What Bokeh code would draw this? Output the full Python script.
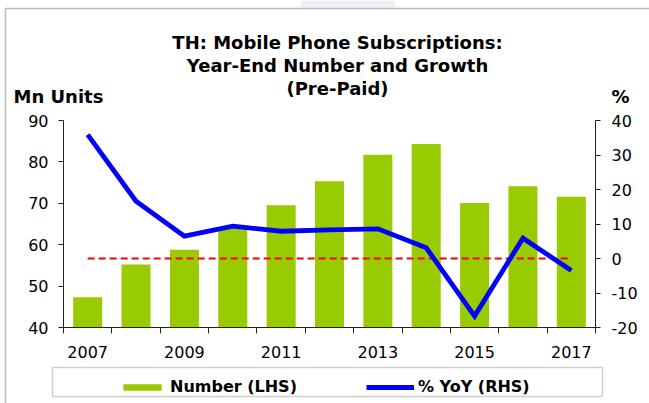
from bokeh.plotting import figure
from bokeh.models import (Range1d, LinearAxis, FixedTicker, Label, BoxAnnotation,
                          Legend, LegendItem, ColumnDataSource)
from bokeh.embed import file_html
from bokeh.resources import INLINE

# ---- data ----
years = [2007, 2008, 2009, 2010, 2011, 2012, 2013, 2014, 2015, 2016, 2017]
number_mn = [47.3, 55.2, 58.8, 64.3, 69.5, 75.3, 81.7, 84.3, 70.1, 74.1, 71.6]
yoy_pct = [35.9, 16.6, 6.5, 9.4, 7.9, 8.3, 8.6, 3.1, -16.7, 5.9, -3.5]
left_ticks = [40, 50, 60, 70, 80, 90]
right_ticks = [-20, -10, 0, 10, 20, 30, 40]
x_label_years = [2007, 2009, 2011, 2013, 2015, 2017]
title_lines = ["TH: Mobile Phone Subscriptions:", "Year-End Number and Growth", "(Pre-Paid)"]
left_unit = "Mn Units"
right_unit = "%"
series_names = ["Number (LHS)", "% YoY (RHS)"]

# ---- layout (pixels) ----
FONT = "DejaVu Sans"
W, H = 649, 403
FL, FR, FT, FB = 63, 595, 120, 327   # plot area edges on the canvas

x0, x1 = years[0] - 0.5, years[-1] + 0.5
ppx = (FR - FL) / (x1 - x0)
ly0, ly1 = left_ticks[0], left_ticks[-1]
ppl = (FB - FT) / (ly1 - ly0)
ry0, ry1 = right_ticks[0], right_ticks[-1]
ppr = (FB - FT) / (ry1 - ry0)

xr = Range1d(x0 - FL / ppx, x1 + (W - FR) / ppx)
yr = Range1d(ly0 - (H - FB) / ppl, ly1 + FT / ppl)
rr = Range1d(ry0 - (H - FB) / ppr, ry1 + FT / ppr)

src = ColumnDataSource(dict(x=years, n=number_mn, g=yoy_pct))

p = figure(width=W, height=H, output_backend="svg", toolbar_location=None,
           x_range=xr, y_range=yr, x_axis_location=None, y_axis_location=None,
           min_border=0)
p.extra_y_ranges = {"pct": rr}
p.outline_line_color = None
p.grid.visible = False
p.background_fill_color = "white"
p.border_fill_color = "white"

bars = p.vbar(x="x", top="n", bottom=ly0, width=0.6, source=src,
              fill_color="#99CC00", line_color=None)
p.line(x=[years[0], years[-1]], y=[0, 0], y_range_name="pct",
       line_color="#FF0000", line_width=2, line_dash="7 4")
ln = p.line(x="x", y="g", source=src, y_range_name="pct",
            line_color="#0000FF", line_width=4.8, line_join="miter")

AX = "#222222"


def style(ax):
    ax.axis_line_color = AX
    ax.major_tick_line_color = AX
    ax.minor_tick_line_color = None
    ax.major_label_text_font = FONT
    ax.major_label_text_font_size = "16px"
    ax.major_label_text_color = "black"


# x axis
xa = LinearAxis(fixed_location=ly0, bounds=(x0, x1),
                ticker=FixedTicker(ticks=x_label_years,
                                   minor_ticks=[y - 0.5 for y in years] + [x1]))
style(xa)
xa.major_label_overrides = {y: str(y) for y in x_label_years}
xa.major_tick_line_color = None
xa.major_tick_out = 0
xa.minor_tick_out = 6
xa.minor_tick_in = 0
xa.minor_tick_line_color = AX
xa.major_label_standoff = 12
p.add_layout(xa, "below")

# left axis
ya = LinearAxis(fixed_location=x0, bounds=(ly0, ly1), ticker=FixedTicker(ticks=left_ticks))
style(ya)
ya.major_tick_out = 5
ya.major_tick_in = 0
ya.major_label_standoff = 10
p.add_layout(ya, "left")

# right axis
ra = LinearAxis(y_range_name="pct", fixed_location=x1, bounds=(ry0, ry1),
                ticker=FixedTicker(ticks=right_ticks))
style(ra)
ra.major_label_overrides = {t: str(t) for t in right_ticks}
ra.major_tick_out = 5
ra.major_tick_in = 0
ra.major_label_standoff = 11
p.add_layout(ra, "right")


def lab(x, y, text, size, align="center", bold=True):
    p.add_layout(Label(x=x, y=H - y, x_units="screen", y_units="screen", text=text,
                       text_align=align, text_baseline="alphabetic", text_font=FONT,
                       text_font_style="bold" if bold else "normal",
                       text_font_size=size, text_color="black"))


for i, t in enumerate(title_lines):
    lab(337, 42 + 23 * i, t, "18px")
lab(13, 96, left_unit, "18px", align="left")
lab(620, 96, right_unit, "18px")


def box(l, r, t, b, **kw):
    p.add_layout(BoxAnnotation(left=l, right=r, top=H - t, bottom=H - b,
                               left_units="screen", right_units="screen",
                               top_units="screen", bottom_units="screen", **kw))


# faint watermark at top, outer frame, legend frame
box(300, 395, 0, 7, fill_color="#EEEEF7", fill_alpha=1, line_color=None)
box(5, W + 20, 8, H + 20, fill_alpha=0, line_color="#222222", line_width=1.5)
box(52, 602, 367, 396, fill_alpha=0, line_color="#666666", line_width=1.5)

legend = Legend(items=[LegendItem(label=series_names[0], renderers=[bars]),
                       LegendItem(label=series_names[1], renderers=[ln])],
                orientation="horizontal", location=(118, 7),
                glyph_width=48, glyph_height=8, label_standoff=4, spacing=69,
                padding=5, margin=0,
                label_text_font=FONT, label_text_font_style="bold",
                label_text_font_size="16px", label_text_color="black",
                border_line_color=None, background_fill_alpha=0)
p.add_layout(legend, "center")

open("out.html", "w").write(file_html(p, INLINE))
